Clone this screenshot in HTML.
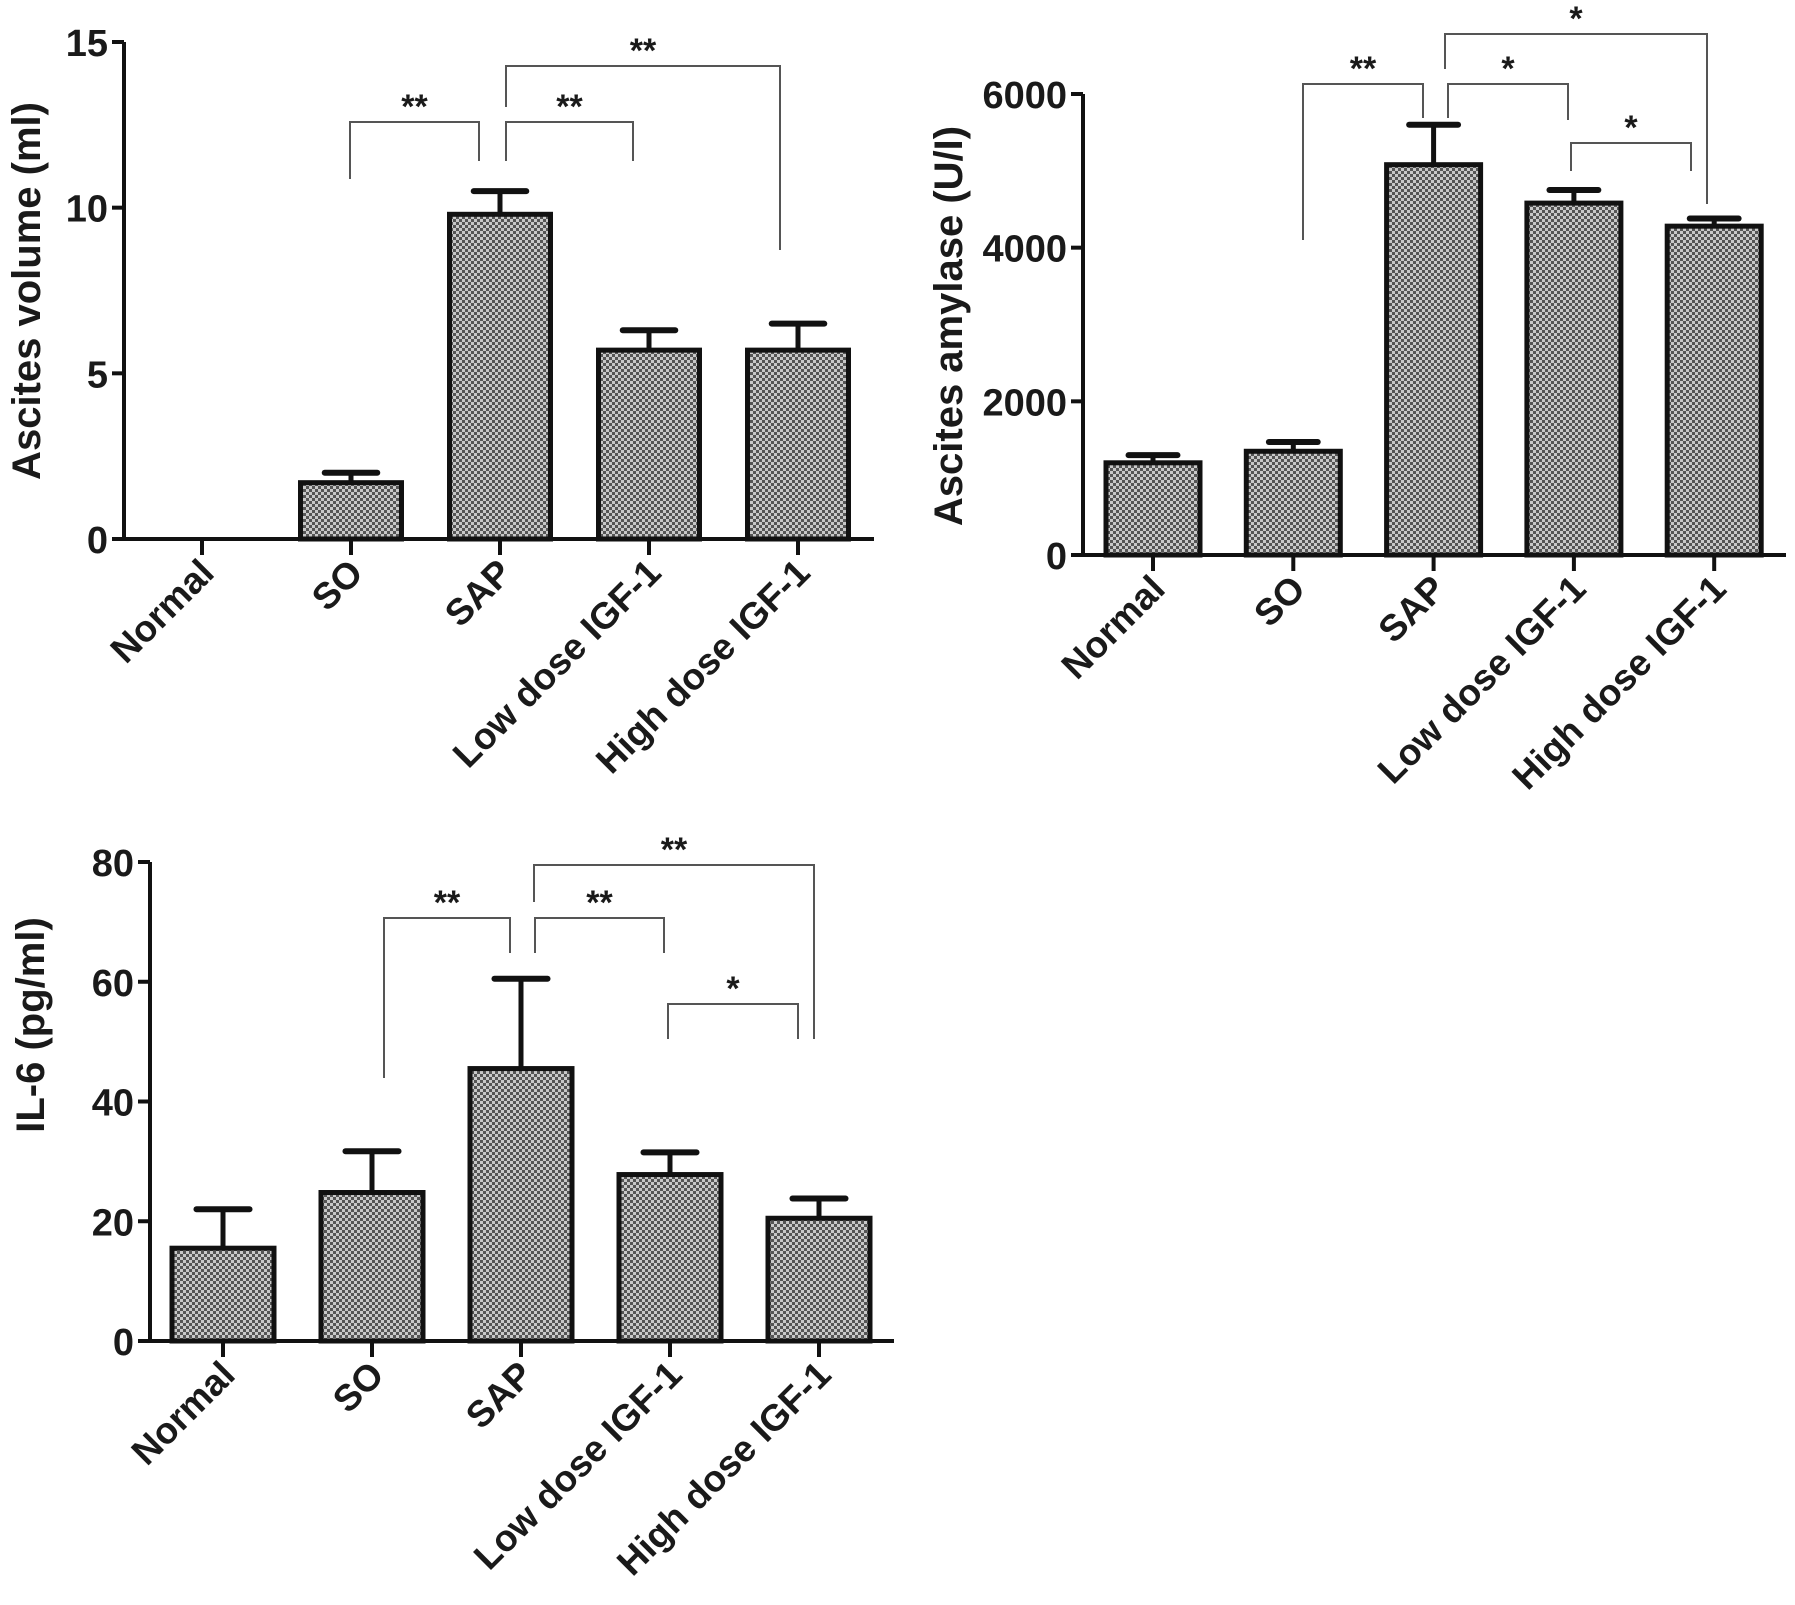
<!DOCTYPE html>
<html><head><meta charset="utf-8"><style>
html,body{margin:0;padding:0;background:#fff;}
svg{display:block;}
text{font-family:"Liberation Sans",Arial,sans-serif;font-weight:bold;fill:#1a1a1a;}
</style></head><body>
<svg id="fig" width="1795" height="1605" viewBox="0 0 1795 1605" xmlns="http://www.w3.org/2000/svg">
<defs>
<pattern id="chk" width="6" height="6" patternUnits="userSpaceOnUse">
<rect width="6" height="6" fill="#c8c8c8"/>
<rect width="3" height="3" fill="#555"/>
<rect x="3" y="3" width="3" height="3" fill="#555"/>
</pattern>
</defs>
</svg>
<script>
const categories = ["Normal","SO","SAP","Low dose IGF-1","High dose IGF-1"];
const volumeValues = [0, 1.7, 9.8, 5.7, 5.7];
const volumeErrTop = [0, 2.0, 10.5, 6.3, 6.5];
const volumeTicks = [0, 5, 10, 15];
const amylaseValues = [1200, 1350, 5080, 4580, 4280];
const amylaseErrTop = [1300, 1470, 5600, 4750, 4380];
const amylaseTicks = [0, 2000, 4000, 6000];
const il6Values = [15.5, 24.8, 45.5, 27.8, 20.5];
const il6ErrTop = [22, 31.7, 60.5, 31.5, 23.8];
const il6Ticks = [0, 20, 40, 60, 80];

const NS = "http://www.w3.org/2000/svg";
const svg = document.getElementById('fig');
function el(tag, attrs, parent, txt){
  const e = document.createElementNS(NS, tag);
  for (const k in attrs) e.setAttribute(k, attrs[k]);
  if (txt !== undefined) e.textContent = txt;
  (parent || svg).appendChild(e);
  return e;
}

function chart(cfg){
  const g = el('g', {});
  
  
  const yS = v => cfg.y0 - (v - cfg.min) / (cfg.max - cfg.min) * (cfg.y0 - cfg.yTop);
  const xS = i => cfg.x0c + i * cfg.step;
  cfg.values.forEach((v, i) => {
    const cx = xS(i);
    if (cfg.errTop[i] > v) {
      const ln = el('line', {x1:cx, x2:cx, y1:yS(v), y2:yS(cfg.errTop[i]), stroke:'#111', 'stroke-width':5}, g);
      
      
      const cap = el('line', {x1:cx-cfg.bw*0.26, x2:cx+cfg.bw*0.26, y1:yS(cfg.errTop[i]), y2:yS(cfg.errTop[i]), stroke:'#111', 'stroke-width':6, 'stroke-linecap':'round'}, g);
      
      
    }
    if (v > 0) {
      const r = el('rect', {x:cx-cfg.bw/2, y:yS(v), width:cfg.bw, height:yS(0)-yS(v), fill:'url(#chk)', stroke:'#111', 'stroke-width':5}, g);
      
      
    }
  });
  const ya = el('line', {x1:cfg.xAxis, x2:cfg.xAxis, y1:cfg.yTop, y2:cfg.y0+2, stroke:'#111', 'stroke-width':4}, g);
  
  
  const xa = el('line', {x1:cfg.xAxis-2, x2:cfg.xEnd, y1:cfg.y0, y2:cfg.y0, stroke:'#111', 'stroke-width':4}, g);
  
  
  cfg.ticks.forEach(t => {
    const y = yS(t);
    el('line', {x1:cfg.xAxis-12, x2:cfg.xAxis, y1:y, y2:y, stroke:'#111', 'stroke-width':4}, g);
    const tl = el('text', {x:cfg.xAxis-16, y:y+14, 'text-anchor':'end', 'font-size':38}, g, String(t));
    
    
  });
  categories.forEach((c, i) => {
    const cx = xS(i);
    el('line', {x1:cx, x2:cx, y1:cfg.y0, y2:cfg.y0+16, stroke:'#111', 'stroke-width':4}, g);
    const tl = el('text', {x:cx+14, y:cfg.y0+36, 'text-anchor':'end', 'font-size':37, transform:`rotate(-45 ${cx+14} ${cfg.y0+36})`}, g, c);
    
    
  });
  const yt = el('text', {x:cfg.labX, y:cfg.labY, 'text-anchor':'middle', 'font-size':40, transform:`rotate(-90 ${cfg.labX} ${cfg.labY})`}, g, cfg.label);
  
  
  cfg.brackets.forEach(b => {
    const p = el('polyline', {points:`${b[0]},${b[1]} ${b[0]},${b[4]} ${b[2]},${b[4]} ${b[2]},${b[3]}`, fill:'none', stroke:'#555', 'stroke-width':2}, g);
    
    
    const s = el('text', {x:(b[0]+b[2])/2, y:b[4]-4, 'text-anchor':'middle', 'font-size':34, 'font-weight':'normal'}, g, b[5]);
    
    
  });
}

chart({name:'ascites-volume-chart', values:volumeValues, errTop:volumeErrTop, ticks:volumeTicks, min:0, max:15,
  xAxis:124, xEnd:874, y0:539, yTop:42, x0c:202, step:149, bw:101, labX:40, labY:291, label:'Ascites volume (ml)',
  brackets:[[350,179,479,161,122,'**'],[506,161,633,161,122,'**'],[506,107,780,250,66,'**']]});
chart({name:'ascites-amylase-chart', values:amylaseValues, errTop:amylaseErrTop, ticks:amylaseTicks, min:0, max:6000,
  xAxis:1083, xEnd:1786, y0:555, yTop:94, x0c:1153, step:140.3, bw:94, labX:962, labY:326, label:'Ascites amylase (U/I)',
  brackets:[[1303,240,1423,118,84,'**'],[1448,118,1568,120,84,'*'],[1571,171,1691,171,143,'*'],[1445,69,1707,204,34,'*']]});
chart({name:'il6-chart', values:il6Values, errTop:il6ErrTop, ticks:il6Ticks, min:0, max:80,
  xAxis:150, xEnd:894, y0:1341, yTop:862, x0c:223, step:149, bw:102, labX:44, labY:1025, label:'IL-6 (pg/ml)',
  brackets:[[384,1078,510,953,918,'**'],[535,953,664,953,918,'**'],[668,1039,798,1039,1004,'*'],[534,902,814,1039,865,'**']]});
</script>
</body></html>
